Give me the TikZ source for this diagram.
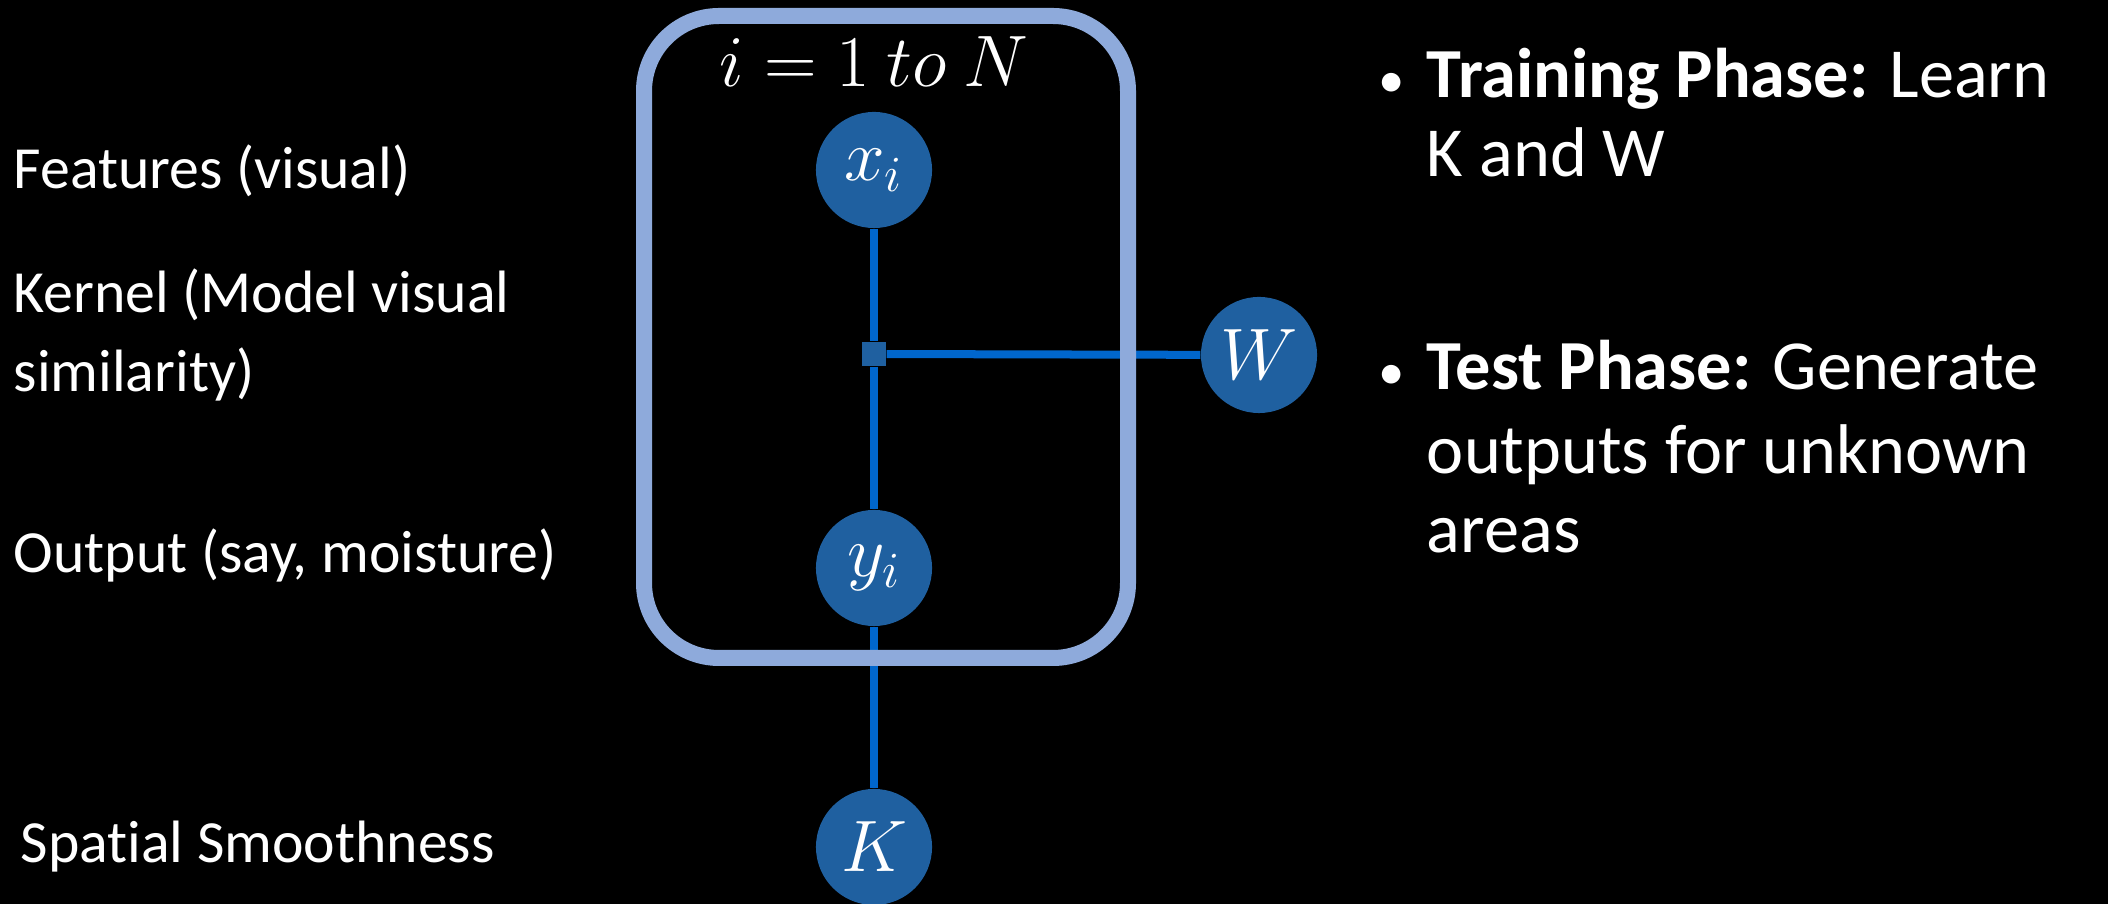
\documentclass[tikz,border=0pt]{standalone}
\usepackage{fontspec}
\setmainfont{Carlito}[Ligatures=NoCommon]
\usetikzlibrary{positioning}

\definecolor{nodeblue}{RGB}{31,96,160}
\definecolor{edgeblue}{RGB}{0,102,204}
\definecolor{plateblue}{RGB}{142,170,219}

\newcommand{\smallbullet}{{\fontsize{15}{15}\selectfont\textbullet}}

\begin{document}
\begin{tikzpicture}[
        x=0.01cm, y=-0.01cm,
        var/.style={circle, fill=nodeblue, text=white, minimum size=1.16cm, inner sep=0pt,
            font=\fontsize{22}{26}\selectfont},
        factor/.style={rectangle, fill=nodeblue, minimum size=0.24cm, inner sep=0pt},
        link/.style={draw=edgeblue, line width=0.08cm},
        plate/.style={draw=plateblue, line width=0.16cm, rounded corners=0.75cm},
        side text/.style={text=white, anchor=west, inner sep=0pt, align=left,
            font=\fontsize{17}{21}\selectfont},
        bullet text/.style={text=white, anchor=west, inner sep=0pt,
            font=\fontsize{20}{22.5}\selectfont}
    ]
    \fill[black] (0,0) rectangle (2108,904);
    \useasboundingbox (0,0) rectangle (2108,904);

    % variables
    \node[var] (xi) at (874,170) {$x_i$};
    \node[factor] (ker) at (874,354) {};
    \node[var] (yi) at (874,568) {$y_i$};
    \node[var] (K) at (874,847) {$K$};
    \node[var] (W) at (1259,355) {$W$};

    % edges
    \draw[link] (xi) -- (ker);
    \draw[link] (ker) -- (yi);
    \draw[link] (ker) -- (W);
    \draw[link] (yi) -- (K);

    % plate
    \draw[plate] (644,16) rectangle (1128,658);
    \node[text=white, font=\fontsize{21}{25}\selectfont] (range) at (874,62) {$i = 1\ to\ N$};

    % descriptions
    \node[side text] (feat) at (13,171) {Features (visual)};
    \node[side text] (kern) at (13,335) {Kernel (Model visual\\[0.05cm]similarity)};
    \node[side text] (outp) at (13,555) {Output (say, moisture)};
    \node[side text] (smooth) at (20,847) {Spatial Smoothness};

    % phases
    \node[bullet text] (train) at (1378,121) {\begin{tabular}{@{}l@{\hspace{0.22cm}}l@{}}
        \smallbullet & \textbf{Training Phase:} Learn\\
                    & K and W
        \end{tabular}};
    \node[bullet text] (test) at (1378,455) {\begin{tabular}{@{}l@{\hspace{0.22cm}}l@{}}
        \smallbullet & \textbf{Test Phase:} Generate\\[0.05cm]
                    & outputs for unknown\\
                    & areas
        \end{tabular}};
\end{tikzpicture}
\end{document}
